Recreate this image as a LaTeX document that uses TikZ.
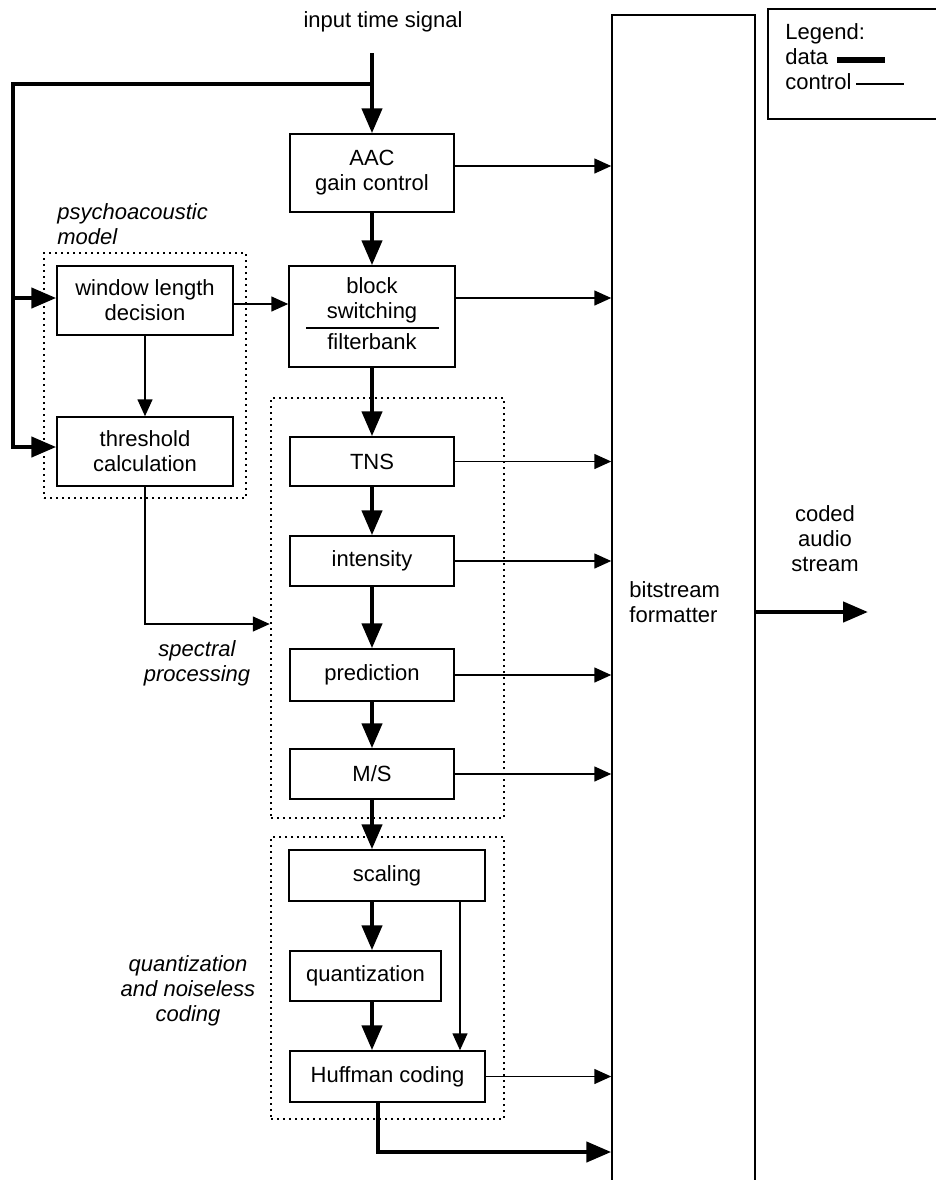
\documentclass[tikz,border=0pt]{standalone}
\usepackage{fontspec}
\setmainfont{Liberation Sans}
\usetikzlibrary{arrows.meta,calc}
\newcommand{\figfont}{\fontsize{11}{12.5}\selectfont}

\begin{document}
\begin{tikzpicture}[x=0.5pt, y=-0.5pt, font=\figfont,
    blockbox/.style={draw, line width=0.75pt, inner sep=0pt, align=center},
    dotbox/.style={draw, line width=1.25pt, dash pattern=on 1.2pt off 1.8pt, inner sep=0pt},
    note/.style={inner sep=0pt},
    dataline/.style={line width=2.25pt, -{Triangle[length=12.5pt,width=10pt]}},
    ctrlline/.style={line width=0.75pt, -{Triangle[length=8.5pt,width=7.5pt]}}]
    \useasboundingbox (0,0) rectangle (936,1180);
    \clip (0,0) rectangle (936,1180);

    % main chain
    \node[blockbox, minimum width=82pt, minimum height=39pt] (aac) at (372,173) {AAC\\gain control};
    \node[blockbox, minimum width=83pt, minimum height=50.5pt] (blk) at (372,316.5) {};
    \node[note, align=center] (blktop) at ([yshift=8pt]blk.center) {block\\switching};
    \node[note] (blkbot) at ([yshift=-12.75pt]blk.center) {filterbank};
    \draw[line width=0.75pt] ([xshift=-33pt,yshift=-5.75pt]blk.center) -- ([xshift=33.5pt,yshift=-5.75pt]blk.center);

    % psychoacoustic model
    \node[dotbox, minimum width=101pt, minimum height=122.5pt] (psy) at (145,375.5) {};
    \node[blockbox, minimum width=88pt, minimum height=34.5pt] (win) at (145,300.5) {window length\\decision};
    \node[blockbox, minimum width=88pt, minimum height=34.5pt] (thr) at (145,451.5) {threshold\\calculation};
    \node[note, align=left, anchor=west, font=\figfont\itshape] (psylabel) at (57,224) {psychoacoustic\\model};

    % spectral processing
    \node[dotbox, minimum width=116.5pt, minimum height=210pt] (spec) at (387.5,608) {};
    \node[blockbox, minimum width=82pt, minimum height=24.5pt] (tns) at (372,461.5) {TNS};
    \node[blockbox, minimum width=82pt, minimum height=25pt] (int) at (372,561) {intensity};
    \node[blockbox, minimum width=82pt, minimum height=26pt] (pred) at (372,675) {prediction};
    \node[blockbox, minimum width=82pt, minimum height=25pt] (ms) at (372,774) {M/S};
    \node[note, align=center, font=\figfont\itshape] (speclabel) at (197,663.5) {spectral\\processing};

    % quantization and noiseless coding
    \node[dotbox, minimum width=116.5pt, minimum height=141pt] (qnc) at (387.5,978) {};
    \node[blockbox, minimum width=98pt, minimum height=25.5pt] (scal) at (387,875.5) {scaling};
    \node[blockbox, minimum width=75.5pt, minimum height=25pt] (qz) at (365.5,976) {quantization};
    \node[blockbox, minimum width=97.5pt, minimum height=25.5pt] (huff) at (387.5,1076.5) {Huffman coding};
    \node[note, align=center, font=\figfont\itshape] (qnclabel) at (188,991) {quantization\\and noiseless\\coding};

    % bitstream formatter
    \node[blockbox, minimum width=71.5pt, minimum height=587.5pt] (bs) at (683.5,602.5) {};
    \node[note, align=left, anchor=west] (bstext) at (629,602.5) {bitstream\\formatter};
    \node[note, align=center] (codedtext) at (825,539) {coded\\audio\\stream};

    % legend
    \node[blockbox, minimum width=86pt, minimum height=55pt] (legend) at (854,64) {};
    \node[note, align=left, anchor=west] (legtext) at (785,57) {Legend:\\data\\control};
    \draw[line width=3pt] (837,60) -- (885,60);
    \draw[line width=0.75pt] (856,84) -- (904,84);

    % input
    \node[note] (inlabel) at (383,22) {input time signal};
    \coordinate (insig) at (372,53);
    \coordinate (split) at (372,84);
    \coordinate (leftbus) at (13,84);
    \coordinate (bsin) at (612,1152);
    \coordinate (coded) at (868,612);

    % data connections
    \draw[dataline] (insig) -- (aac.north);
    \draw[dataline] (split) -- (leftbus) |- ([yshift=2.25pt]thr.west);
    \draw[dataline] (leftbus |- 0,298) -- ([yshift=1.25pt]win.west);
    \draw[dataline] (aac.south) -- (blk.north);
    \draw[dataline] (blk.south) -- (tns.north);
    \draw[dataline] (tns.south) -- (int.north);
    \draw[dataline] (int.south) -- (pred.north);
    \draw[dataline] (pred.south) -- (ms.north);
    \draw[dataline] (ms.south) -- (ms.south |- scal.north);
    \draw[dataline] (scal.south -| ms.south) -- (qz.north -| ms.south);
    \draw[dataline] (qz.south -| ms.south) -- (huff.north -| ms.south);
    \draw[dataline] ([xshift=-4.75pt]huff.south) |- (bsin -| bs.west);
    \draw[dataline] ([yshift=-4.75pt]bs.east) -- (coded);

    % control connections
    \draw[ctrlline] ([yshift=-1.75pt]win.east) -- ([yshift=-1.75pt]win.east -| blk.west);
    \draw[ctrlline] (win.south) -- (thr.north);
    \draw[ctrlline] (thr.south) |- ([yshift=-8pt]spec.west);
    \draw[ctrlline] ([xshift=36.5pt]scal.south) -- ([xshift=36.5pt]scal.south |- huff.north);
    \draw[ctrlline] ([yshift=3.5pt]aac.east) -- ([yshift=3.5pt]aac.east -| bs.west);
    \draw[ctrlline] ([yshift=9.25pt]blk.east) -- ([yshift=9.25pt]blk.east -| bs.west);
    \draw[ctrlline] (tns.east) -- (tns.east -| bs.west);
    \draw[ctrlline] (int.east) -- (int.east -| bs.west);
    \draw[ctrlline] (pred.east) -- (pred.east -| bs.west);
    \draw[ctrlline] (ms.east) -- (ms.east -| bs.west);
    \draw[ctrlline] (huff.east) -- (huff.east -| bs.west);
\end{tikzpicture}
\end{document}
